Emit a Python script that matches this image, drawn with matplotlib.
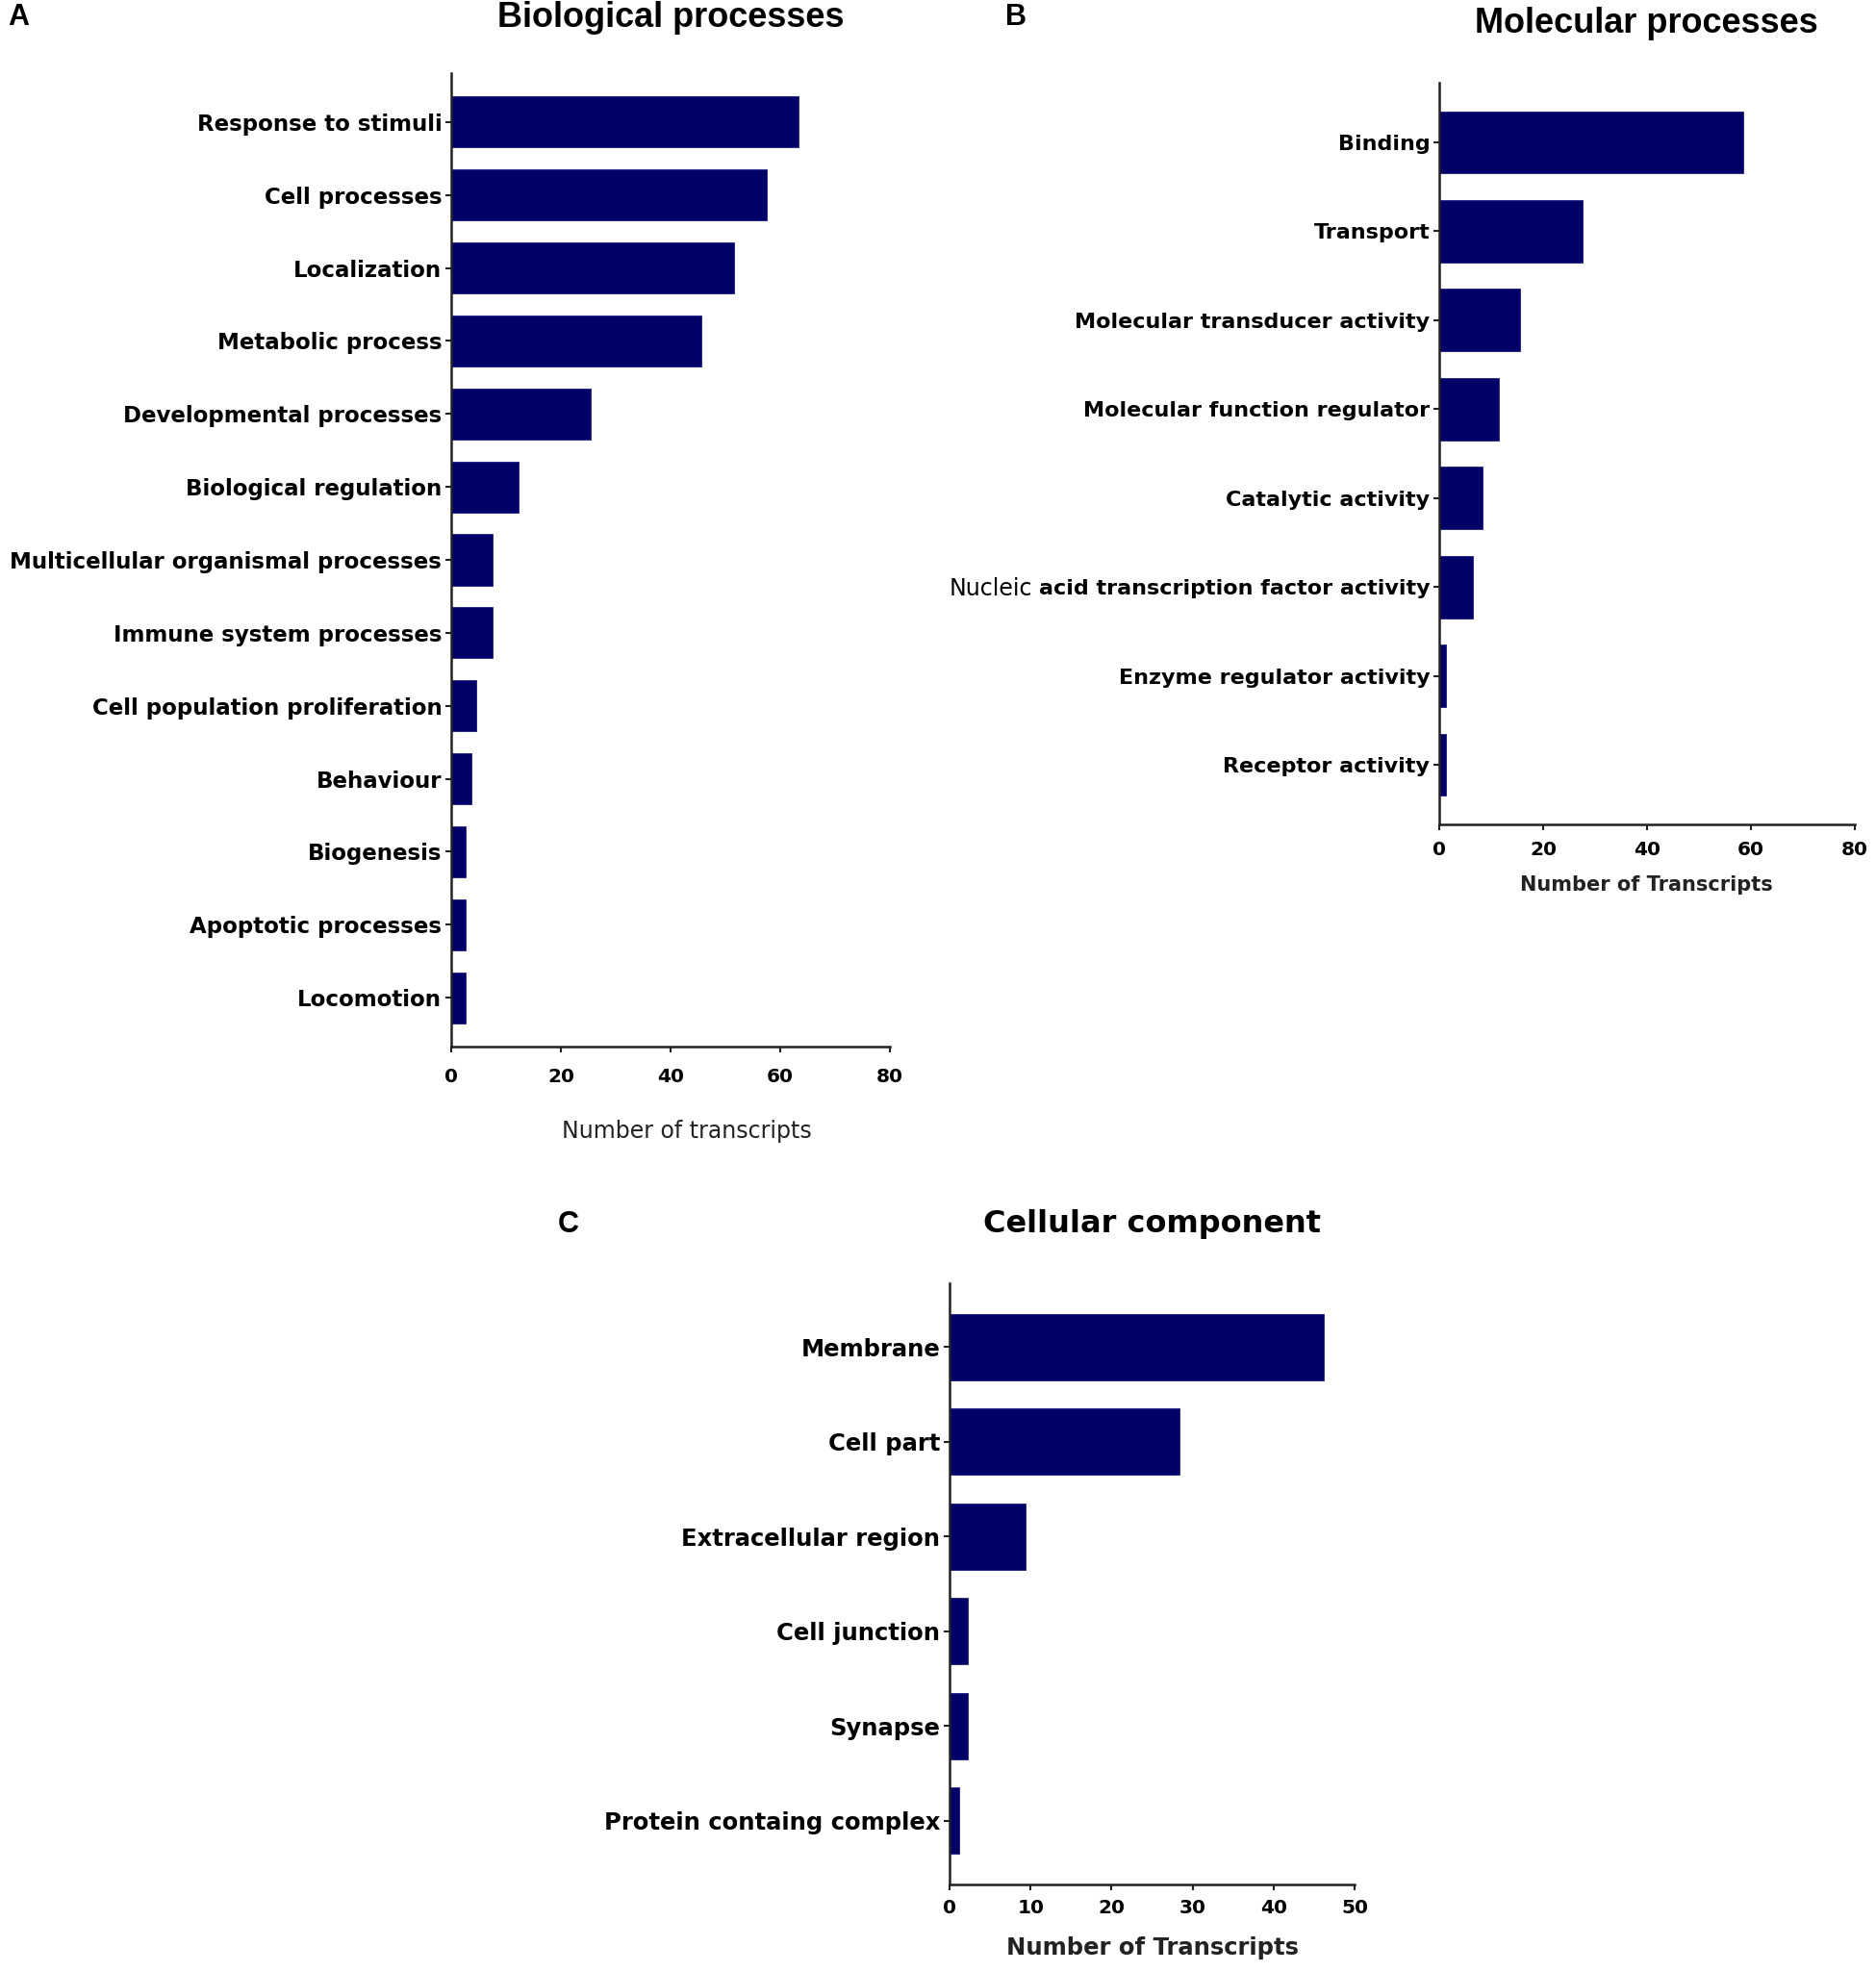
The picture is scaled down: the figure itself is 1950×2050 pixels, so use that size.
import numpy as np
import matplotlib
matplotlib.use('Agg')
from matplotlib import pyplot as plt

# --- data (top to bottom) ---
bio_labels = ['Response to stimuli', 'Cell processes', 'Localization', 'Metabolic process',
              'Developmental processes', 'Biological regulation',
              'Multicellular organismal processes', 'Immune system processes',
              'Cell population proliferation', 'Behaviour', 'Biogenesis',
              'Apoptotic processes', 'Locomotion']
bio_counts = [63.3, 57.6, 51.6, 45.6, 25.4, 12.3, 7.5, 7.5, 4.6, 3.6, 2.6, 2.6, 2.6]

mol_labels = ['Binding', 'Transport', 'Molecular transducer activity',
              'Molecular function regulator', 'Catalytic activity',
              'Nucleic acid transcription factor activity',
              'Enzyme regulator activity', 'Receptor activity']
mol_counts = [58.5, 27.5, 15.5, 11.5, 8.4, 6.4, 1.3, 1.3]

cell_labels = ['Membrane', 'Cell part', 'Extracellular region', 'Cell junction',
               'Synapse', 'Protein containg complex']
cell_counts = [46.2, 28.4, 9.4, 2.2, 2.2, 1.2]

bio_ticks = [0, 20, 40, 60, 80]
mol_ticks = [0, 20, 40, 60, 80]
cell_ticks = [0, 10, 20, 30, 40, 50]

bar_color = '#000066'
axis_color = '#222222'

W, H = 1950, 2050
fig = plt.figure(figsize=(W / 100, H / 100), dpi=100)


def px(x, y):
    return x / W, 1 - y / H


def panel(rect, labels, counts, ticks, lab_size, tick_pad, shown=None):
    l, t, r, b = rect
    ax = fig.add_axes([l / W, 1 - b / H, (r - l) / W, (b - t) / H])
    y = np.arange(len(labels))
    ax.barh(y, counts, height=0.7, color=bar_color, edgecolor='#1a1a80', linewidth=0.6)
    ax.set_ylim(len(labels) - 1 + 0.67, -0.67)
    ax.set_xlim(ticks[0], ticks[-1])
    ax.set_xticks(ticks)
    ax.set_yticks(y)
    ax.set_yticklabels(shown if shown else labels, fontsize=lab_size,
                       fontweight='bold', family='DejaVu Sans')
    for lab in ax.get_xticklabels():
        lab.set_fontsize(14.5)
        lab.set_fontweight('bold')
    for s in ['top', 'right']:
        ax.spines[s].set_visible(False)
    for s in ['left', 'bottom']:
        ax.spines[s].set_linewidth(1.8)
        ax.spines[s].set_color(axis_color)
    ax.tick_params(axis='both', length=4, width=1.5, color=axis_color)
    ax.tick_params(axis='y', pad=3)
    ax.tick_params(axis='x', pad=tick_pad)
    return ax


# in the original, the word "Nucleic" is in regular weight: draw it apart
mol_shown = list(mol_labels)
mol_shown[5] = 'acid transcription factor activity'

ax_a = panel((469, 76, 925, 1088), bio_labels, bio_counts, bio_ticks, 16.5, 12)
ax_b = panel((1496, 86, 1928, 857), mol_labels, mol_counts, mol_ticks, 16, 8, mol_shown)
ax_c = panel((987, 1334, 1408, 1959), cell_labels, cell_counts, cell_ticks, 17.5, 7)

fig.canvas.draw()
bb = ax_b.get_yticklabels()[5].get_window_extent()
fig.text(bb.x0 - 7, (bb.y0 + bb.y1) / 2, 'Nucleic', transform=None,
         ha='right', va='center', fontsize=17, family='DejaVu Sans')

# titles
fig.text(*px(697, 18), 'Biological processes', ha='center', va='center',
         fontsize=26, fontweight='bold', family='Liberation Sans')
fig.text(*px(1711, 24), 'Molecular processes', ha='center', va='center',
         fontsize=26, fontweight='bold', family='Liberation Sans')
fig.text(*px(1198, 1273), 'Cellular component', ha='center', va='center',
         fontsize=23, fontweight='bold', family='DejaVu Sans')

# panel letters
for letter, (x, y) in zip(['A', 'B', 'C'], [(8, 18), (1045, 18), (580, 1273)]):
    fig.text(*px(x, y), letter, ha='left', va='center', fontsize=22,
             fontweight='bold', family='Liberation Sans')

# axis labels
fig.text(*px(714, 1176), 'Number of transcripts', ha='center', va='center',
         fontsize=17, family='DejaVu Sans', color='#222222')
fig.text(*px(1711, 920), 'Number of Transcripts', ha='center', va='center',
         fontsize=15, fontweight='bold', family='DejaVu Sans', color='#222222')
fig.text(*px(1198, 2025), 'Number of Transcripts', ha='center', va='center',
         fontsize=17.5, fontweight='bold', family='DejaVu Sans', color='#222222')

fig.savefig('out.png', dpi=100)
